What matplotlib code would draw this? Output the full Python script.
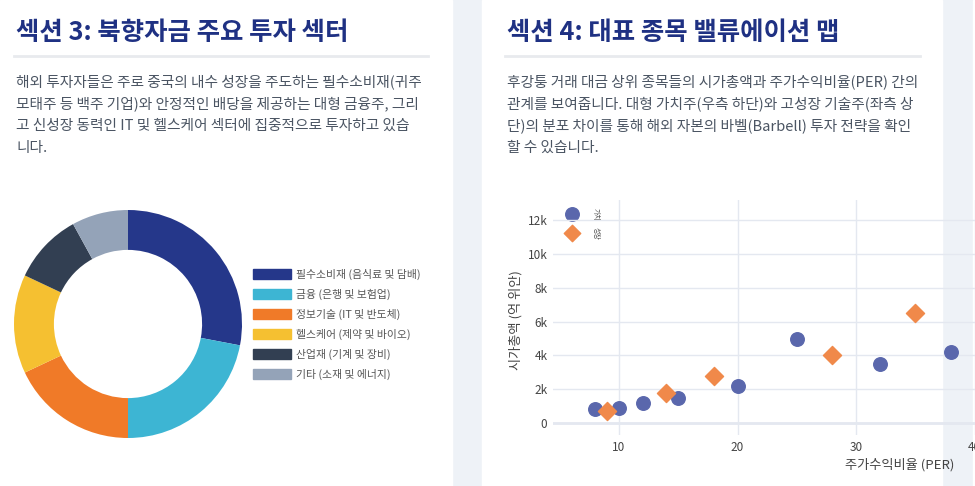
import matplotlib
matplotlib.use("Agg")
import matplotlib.pyplot as plt
from matplotlib.patches import Rectangle

plt.rcParams['font.family'] = ['Noto Sans CJK KR', 'DejaVu Sans']

# donut data
sectors = ["필수소비재 (음식료 및 담배)", "금융 (은행 및 보험업)", "정보기술 (IT 및 반도체)",
           "헬스케어 (제약 및 바이오)", "산업재 (기계 및 장비)", "기타 (소재 및 에너지)"]
shares = [28, 22, 18, 14, 10, 8]
sector_colors = ["#25378a", "#3db5d3", "#f07a28", "#f5c031", "#323f52", "#94a3b8"]

# scatter data
value_per = [8, 10, 12, 15, 20, 25, 32, 38]
value_cap = [800, 900, 1200, 1500, 2200, 5000, 3500, 4200]
growth_per = [9, 14, 18, 28, 35]
growth_cap = [700, 1800, 2800, 4000, 6500]
ytick_vals = [0, 2000, 4000, 6000, 8000, 10000, 12000]
ytick_labels = ["0", "2k", "4k", "6k", "8k", "10k", "12k"]
xtick_vals = [10, 20, 30, 40]

W, H = 975, 486
fig = plt.figure(figsize=(W / 100, H / 100), dpi=100)
fig.patch.set_facecolor("#eef2f7")

def px(x, y):
    return x / W, 1 - y / H

# cards
bg = fig.add_axes([0, 0, 1, 1])
bg.set_xlim(0, W)
bg.set_ylim(H, 0)
bg.axis("off")
bg.add_patch(Rectangle((0, 0), 452, H, color="white", zorder=0))
bg.add_patch(Rectangle((482, 0), 460, H, color="white", zorder=0))
bg.add_patch(Rectangle((973, 0), 10, H, color="white", zorder=0))
bg.plot([14, 428], [56, 56], color="#e8eaee", lw=2)
bg.plot([505, 920], [56, 56], color="#e8eaee", lw=2)

title_c = "#1f3183"
body_c = "#4b5563"
fig.text(*px(16, 33), "섹션 3: 북향자금 주요 투자 섹터", fontsize=18.3, fontweight="bold",
         color=title_c, va="center")
fig.text(*px(507, 33), "섹션 4: 대표 종목 밸류에이션 맵", fontsize=18.3, fontweight="bold",
         color=title_c, va="center")

left_body = ["해외 투자자들은 주로 중국의 내수 성장을 주도하는 필수소비재(귀주",
             "모태주 등 백주 기업)와 안정적인 배당을 제공하는 대형 금융주, 그리",
             "고 신성장 동력인 IT 및 헬스케어 섹터에 집중적으로 투자하고 있습",
             "니다."]
right_body = ["후강퉁 거래 대금 상위 종목들의 시가총액과 주가수익비율(PER) 간의",
              "관계를 보여줍니다. 대형 가치주(우측 하단)와 고성장 기술주(좌측 상",
              "단)의 분포 차이를 통해 해외 자본의 바벨(Barbell) 투자 전략을 확인",
              "할 수 있습니다."]
for i, (a, b) in enumerate(zip(left_body, right_body)):
    y = 82 + i * 22
    fig.text(*px(16, y), a, fontsize=10.6, color=body_c, va="center")
    fig.text(*px(507, y), b, fontsize=10.6, color=body_c, va="center")

# donut
r = 114
cx, cy = 128, 324
pax = fig.add_axes([(cx - r) / W, 1 - (cy + r) / H, 2 * r / W, 2 * r / H])
pax.pie(shares, colors=sector_colors, startangle=90, counterclock=False,
        wedgeprops=dict(width=0.35, edgecolor="none"))
pax.set_aspect("auto")
pax.set_xlim(-1, 1)
pax.set_ylim(-1, 1)

for i, (lab, c) in enumerate(zip(sectors, sector_colors)):
    y = 274 + i * 20
    bg.add_patch(Rectangle((253, y - 5), 38, 10, color=c))
    fig.text(*px(296, y), lab, fontsize=7.8, color="#555555", va="center")

# scatter
x0, x1 = 553, 1010
y0, y1 = 200, 435
ax = fig.add_axes([x0 / W, 1 - y1 / H, (x1 - x0) / W, (y1 - y0) / H])
ax.patch.set_alpha(0)
ax.set_xlim(4.43, 4.43 + (x1 - x0) / 11.85)
ax.set_ylim(-710, -710 + (y1 - y0) / 33.8 * 2000)
ax.set_yticks(ytick_vals)
ax.set_yticklabels(ytick_labels)
ax.set_xticks(xtick_vals)
ax.grid(color="#e4e8f0", lw=1)
ax.axhline(0, color="#e4e8f0", lw=2, zorder=1)
for s in ax.spines.values():
    s.set_visible(False)
ax.tick_params(length=0, labelsize=8.5, labelcolor="#444444", pad=4)
ax.set_axisbelow(True)
ax.scatter(value_per, value_cap, s=95, color="#5a67ac", zorder=3, clip_on=False)
ax.scatter(growth_per, growth_cap, s=85, marker="D", color="#f0894a", zorder=3, clip_on=False)

# legend (glyphs clipped as in the source)
bg.scatter([572], [214], s=95, color="#5a67ac")
bg.scatter([572], [233], s=70, marker="D", color="#f0894a")
fig.text(*px(596, 214), "가치", fontsize=5, rotation=-90, color="#555555", va="center", ha="center")
fig.text(*px(596, 233), "성장", fontsize=5, rotation=-90, color="#555555", va="center", ha="center")

fig.text(*px(516, 320), "시가총액 (억 위안)", fontsize=9.5, color="#444444",
         rotation=90, va="center", ha="center")
fig.text(*px(900, 465), "주가수익비율 (PER)", fontsize=9.5, color="#444444",
         va="center", ha="center")

fig.savefig("out.png", dpi=100)
